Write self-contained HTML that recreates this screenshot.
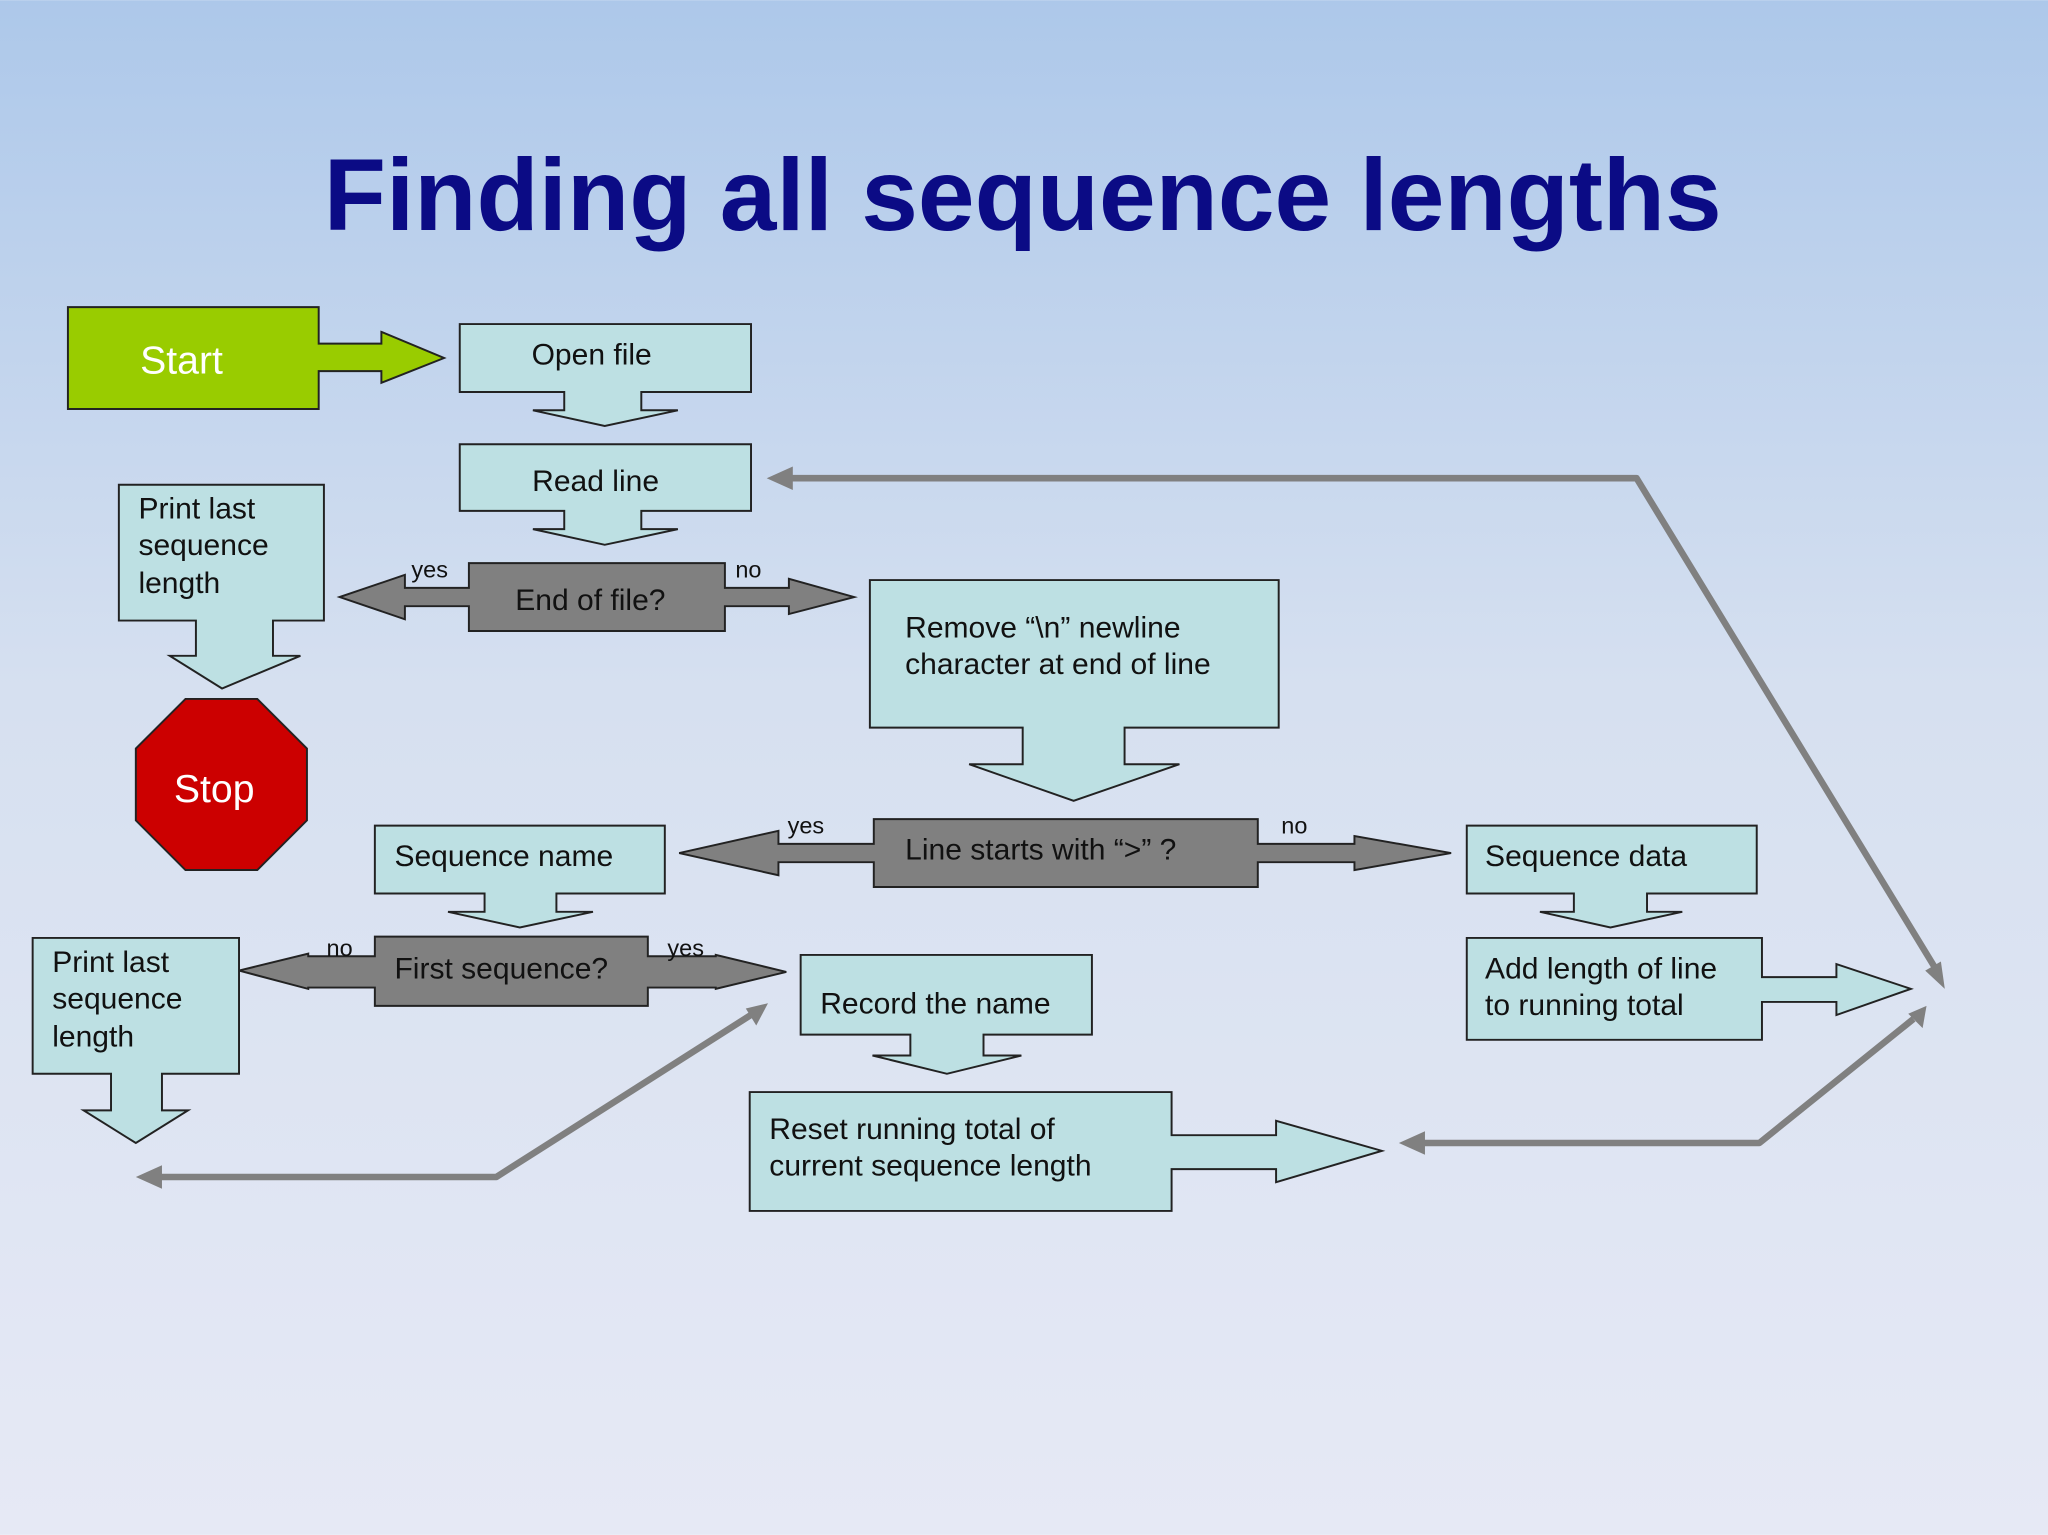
<!DOCTYPE html>
<html><head><meta charset="utf-8"><style>
html,body{margin:0;padding:0;width:2048px;height:1535px;overflow:hidden}
svg{display:block}
text{font-family:"Liberation Sans",sans-serif}
</style></head><body>
<svg width="2048" height="1535" viewBox="0 0 1568 1175" xmlns="http://www.w3.org/2000/svg">
<defs>
<linearGradient id="bg" x1="0" y1="0" x2="0" y2="1">
<stop offset="0" stop-color="#adc8ea"/><stop offset="0.45" stop-color="#d6e0f0"/><stop offset="1" stop-color="#e6e9f5"/>
</linearGradient>
<marker id="ah" markerWidth="8" markerHeight="8" refX="6" refY="4" orient="auto" markerUnits="userSpaceOnUse" viewBox="0 0 8 8">
</marker>
</defs>
<rect width="1568" height="1175" fill="url(#bg)"/>
<text x="783" y="176" text-anchor="middle" font-size="78" font-weight="bold" fill="#0b0b85">Finding all sequence lengths</text>

<g stroke="#222" stroke-width="1.5">
<!-- Start -->
<path d="M52,235 H244 V263 H292 V254 L340,274 L292,293 V284 H244 V313 H52 Z" fill="#99cc00"/>
<!-- Open file -->
<path d="M352,248 H575 V300 H491 V314 H519 L463,326 L408,314 H432 V300 H352 Z" fill="#bde0e3"/>
<!-- Read line -->
<path d="M352,340 H575 V391 H491 V405 H519 L463,417 L408,405 H432 V391 H352 Z" fill="#bde0e3"/>
<!-- Print last top -->
<path d="M91,371 H248 V475 H209 V502 H230 L170,527 L130,502 H150 V475 H91 Z" fill="#bde0e3"/>
<!-- Stop -->
<path d="M142,535 H197 L235,573 V628 L197,666 H142 L104,628 V573 Z" fill="#cc0000"/>
<!-- End of file -->
<path d="M359,431 H555 V450 H604 V443 L654,457 L604,470 V464 H555 V483 H359 V464 H310 V474 L260,457 L310,440 V450 H359 Z" fill="#808080"/>
<!-- Remove -->
<path d="M666,444 H979 V557 H861 V585 H903 L822,613 L742,585 H783 V557 H666 Z" fill="#bde0e3"/>
<!-- Line starts -->
<path d="M669,627 H963 V646 H1037 V640 L1111,653 L1037,666 V660 H963 V679 H669 V660 H596 V670 L520,653 L596,636 V646 H669 Z" fill="#808080"/>
<!-- Sequence name -->
<path d="M287,632 H509 V684 H426 V698 H454 L398,710 L343,698 H371 V684 H287 Z" fill="#bde0e3"/>
<!-- Sequence data -->
<path d="M1123,632 H1345 V684 H1261 V698 H1288 L1233,710 L1179,698 H1205 V684 H1123 Z" fill="#bde0e3"/>
<!-- First sequence -->
<path d="M287,717 H496 V732 H548 V731 L602,744 L548,757 V756 H496 V770 H287 V756 H236 V757 L183,743 L236,730 V732 H287 Z" fill="#808080"/>
<!-- Print last bottom -->
<path d="M25,718 H183 V822 H124 V850 H144 L104,875 L64,850 H85 V822 H25 Z" fill="#bde0e3"/>
<!-- Record the name -->
<path d="M613,731 H836 V792 H753 V808 H782 L725,822 L668,808 H697 V792 H613 Z" fill="#bde0e3"/>
<!-- Add length -->
<path d="M1123,718 H1349 V748 H1406 V738 L1463,757 L1406,777 V767 H1349 V796 H1123 Z" fill="#bde0e3"/>
<!-- Reset -->
<path d="M574,836 H897 V869 H977 V858 L1058,881 L977,905 V895 H897 V927 H574 Z" fill="#bde0e3"/>
</g>

<!-- gray connectors -->
<g stroke="#808080" stroke-width="5" fill="none" stroke-linejoin="round">
<polyline points="605,366 1253,366 1481,740"/>
<polyline points="1465,780 1347,875 1090,875"/>
<polyline points="578,775 380,901 122,901"/>
</g>
<g fill="#808080">
<polygon points="587,366 607,357 607,375"/>
<polygon points="1489,757 1474,743 1486,736"/>
<polygon points="1475,770 1472,787 1461,776"/>
<polygon points="1071,875 1091,866 1091,884"/>
<polygon points="588,768 571,772 579,785"/>
<polygon points="104,901 124,892 124,910"/>
</g>

<g font-size="23" fill="#111">
<text x="139" y="286" font-size="30" fill="#fff" text-anchor="middle">Start</text>
<text x="453" y="279" text-anchor="middle">Open file</text>
<text x="456" y="376" text-anchor="middle">Read line</text>
<text x="106" y="397">Print last</text>
<text x="106" y="425">sequence</text>
<text x="106" y="454">length</text>
<text x="164" y="614" font-size="30" fill="#fff" text-anchor="middle">Stop</text>
<text x="452" y="467" text-anchor="middle">End of file?</text>
<text x="329" y="442" font-size="18" text-anchor="middle">yes</text>
<text x="573" y="442" font-size="18" text-anchor="middle">no</text>
<text x="693" y="488">Remove “\n” newline</text>
<text x="693" y="516">character at end of line</text>
<text x="693" y="658">Line starts with “&gt;” ?</text>
<text x="617" y="638" font-size="18" text-anchor="middle">yes</text>
<text x="991" y="638" font-size="18" text-anchor="middle">no</text>
<text x="302" y="663">Sequence name</text>
<text x="1137" y="663">Sequence data</text>
<text x="302" y="749">First sequence?</text>
<text x="260" y="732" font-size="18" text-anchor="middle">no</text>
<text x="525" y="732" font-size="18" text-anchor="middle">yes</text>
<text x="40" y="744">Print last</text>
<text x="40" y="772">sequence</text>
<text x="40" y="801">length</text>
<text x="628" y="776">Record the name</text>
<text x="1137" y="749">Add length of line</text>
<text x="1137" y="777">to running total</text>
<text x="589" y="872">Reset running total of</text>
<text x="589" y="900">current sequence length</text>
</g>
</svg>
</body></html>
